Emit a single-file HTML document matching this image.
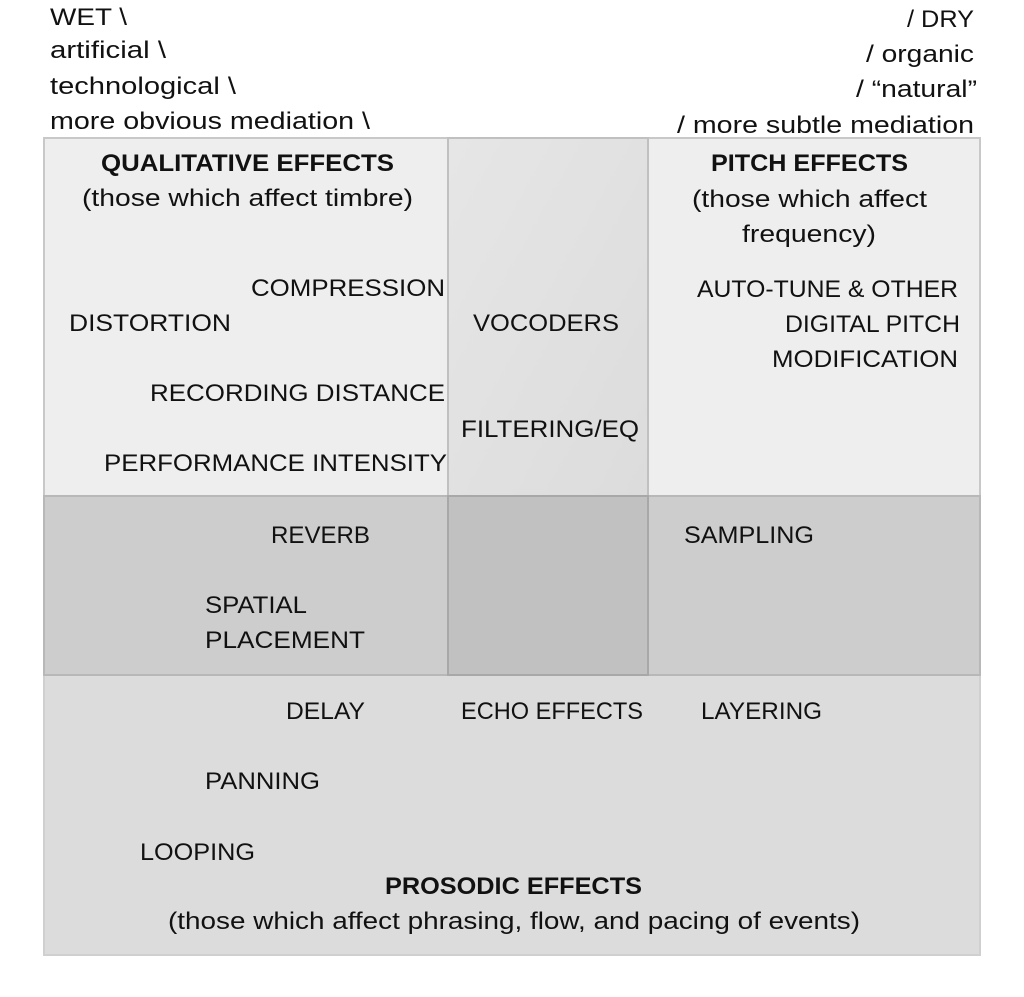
<!DOCTYPE html>
<html><head><meta charset="utf-8"><style>
html,body{margin:0;padding:0;background:#fff;}
svg{display:block;}
text{font-family:"Liberation Sans",sans-serif;font-size:24px;fill:#111;}
.b{font-weight:bold;}
</style></head><body>
<svg width="1024" height="997" viewBox="0 0 1024 997">
  <defs>
    <linearGradient id="mid" x1="0" y1="0" x2="1" y2="1">
      <stop offset="0" stop-color="#e6e6e6"/><stop offset="1" stop-color="#dcdcdc"/>
    </linearGradient>
  </defs>
  <!-- bottom prosodic box -->
  <rect x="44" y="675" width="936" height="280" fill="#dcdcdc" stroke="#d0d0d0" stroke-width="2"/>
  <!-- qualitative box -->
  <rect x="44" y="138" width="404" height="358" fill="#eeeeee" stroke="#c8c8c8" stroke-width="2"/>
  <!-- pitch box -->
  <rect x="648" y="138" width="332" height="358" fill="#eeeeee" stroke="#c8c8c8" stroke-width="2"/>
  <!-- middle column -->
  <rect x="448" y="138" width="200" height="358" fill="url(#mid)" stroke="#c0c0c0" stroke-width="2"/>
  <!-- middle band -->
  <rect x="44" y="496" width="936" height="179" fill="#cdcdcd" stroke="#b8b8b8" stroke-width="2"/>
  <rect x="448" y="496" width="200" height="179" fill="#c1c1c1" stroke="#a8a8a8" stroke-width="2"/>

  <g>
    <text x="50" y="25" textLength="77" lengthAdjust="spacingAndGlyphs">WET \</text>
    <text x="50" y="58" textLength="116" lengthAdjust="spacingAndGlyphs">artificial \</text>
    <text x="50" y="94" textLength="186" lengthAdjust="spacingAndGlyphs">technological \</text>
    <text x="50" y="129" textLength="320" lengthAdjust="spacingAndGlyphs">more obvious mediation \</text>
    <text x="907" y="27" textLength="67" lengthAdjust="spacingAndGlyphs">/ DRY</text>
    <text x="866" y="62" textLength="108" lengthAdjust="spacingAndGlyphs">/ organic</text>
    <text x="856" y="97" textLength="121" lengthAdjust="spacingAndGlyphs">/ “natural”</text>
    <text x="677" y="133" textLength="297" lengthAdjust="spacingAndGlyphs">/ more subtle mediation</text>
  </g>

  <g>
    <text class="b" x="101" y="171" textLength="293" lengthAdjust="spacingAndGlyphs">QUALITATIVE EFFECTS</text>
    <text x="82" y="206" textLength="331" lengthAdjust="spacingAndGlyphs">(those which affect timbre)</text>
    <text class="b" x="711" y="171" textLength="197" lengthAdjust="spacingAndGlyphs">PITCH EFFECTS</text>
    <text x="692" y="207" textLength="235" lengthAdjust="spacingAndGlyphs">(those which affect</text>
    <text x="742" y="242" textLength="134" lengthAdjust="spacingAndGlyphs">frequency)</text>
    <text class="b" x="385" y="894" textLength="257" lengthAdjust="spacingAndGlyphs">PROSODIC EFFECTS</text>
    <text x="168" y="929" textLength="692" lengthAdjust="spacingAndGlyphs">(those which affect phrasing, flow, and pacing of events)</text>
  </g>

  <g>
    <text x="251" y="296" textLength="194" lengthAdjust="spacingAndGlyphs">COMPRESSION</text>
    <text x="69" y="331" textLength="162" lengthAdjust="spacingAndGlyphs">DISTORTION</text>
    <text x="150" y="401" textLength="295" lengthAdjust="spacingAndGlyphs">RECORDING DISTANCE</text>
    <text x="104" y="471" textLength="343" lengthAdjust="spacingAndGlyphs">PERFORMANCE INTENSITY</text>
    <text x="473" y="331" textLength="146" lengthAdjust="spacingAndGlyphs">VOCODERS</text>
    <text x="461" y="437" textLength="178" lengthAdjust="spacingAndGlyphs">FILTERING/EQ</text>
    <text x="697" y="297" textLength="261" lengthAdjust="spacingAndGlyphs">AUTO-TUNE &amp; OTHER</text>
    <text x="785" y="332" textLength="175" lengthAdjust="spacingAndGlyphs">DIGITAL PITCH</text>
    <text x="772" y="367" textLength="186" lengthAdjust="spacingAndGlyphs">MODIFICATION</text>
    <text x="271" y="543" textLength="99" lengthAdjust="spacingAndGlyphs">REVERB</text>
    <text x="205" y="613" textLength="102" lengthAdjust="spacingAndGlyphs">SPATIAL</text>
    <text x="205" y="648" textLength="160" lengthAdjust="spacingAndGlyphs">PLACEMENT</text>
    <text x="684" y="543" textLength="130" lengthAdjust="spacingAndGlyphs">SAMPLING</text>
    <text x="286" y="719" textLength="79" lengthAdjust="spacingAndGlyphs">DELAY</text>
    <text x="461" y="719" textLength="182" lengthAdjust="spacingAndGlyphs">ECHO EFFECTS</text>
    <text x="701" y="719" textLength="121" lengthAdjust="spacingAndGlyphs">LAYERING</text>
    <text x="205" y="789" textLength="115" lengthAdjust="spacingAndGlyphs">PANNING</text>
    <text x="140" y="860" textLength="115" lengthAdjust="spacingAndGlyphs">LOOPING</text>
  </g>
</svg>
</body></html>
